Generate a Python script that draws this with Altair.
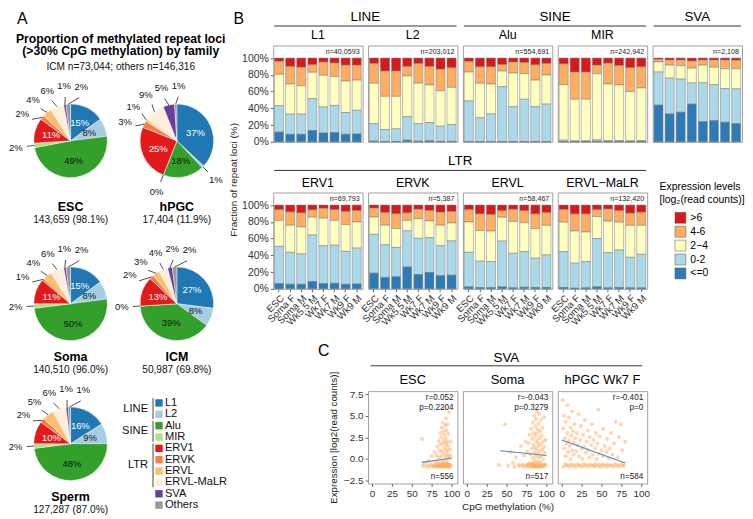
import math
import altair as alt
import pandas as pd

FONT = "Liberation Sans"

# ======================= Panel A data =======================
FAMILIES = ["L1", "L2", "Alu", "MIR", "ERV1", "ERVK", "ERVL", "ERVL-MaLR", "SVA", "Others"]
FAMILY_COLORS = ["#1f78b4", "#a6cee3", "#33a02c", "#b2df8a", "#e31a1c",
                 "#f47f4a", "#fdbf6f", "#fdeedb", "#6a3d9a", "#999999"]
FAMILY_GROUPS = [("LINE", "L1", "L2"), ("SINE", "Alu", "MIR"), ("LTR", "ERV1", "ERVL-MaLR")]
DARK_FAMILIES = ["L1", "ERV1"]

PIE_ESC = [15, 8, 49, 2, 11, 2, 4, 6, 1, 2]
PIE_HPGC = [37, 1, 18, 0, 25, 3, 1, 9, 5, 1]
PIE_SOMA = [15, 8, 50, 2, 11, 1, 4, 6, 1, 2]
PIE_ICM = [27, 8, 39, 0, 13, 2, 3, 4, 2, 2]
PIE_SPERM = [16, 9, 48, 2, 10, 2, 5, 6, 1, 1]
PIE_NAMES = ["ESC", "hPGC", "Soma", "ICM", "Sperm"]
PIE_COUNTS = ["143,659 (98.1%)", "17,404 (11.9%)", "140,510 (96.0%)",
              "50,987 (69.8%)", "127,287 (87.0%)"]
A_TITLE = ["Proportion of methylated repeat loci", "(>30% CpG methylation) by family"]
A_SUBTITLE = "ICM n=73,044; others n=146,316"

# ======================= Panel B data =======================
SAMPLES = ["ESC", "Soma F", "Soma M", "Wk5.5 M", "Wk7 F", "Wk7 M", "Wk9 F", "Wk9 M"]
LEVELS = [">6", "4-6", "2\u22124", "0-2", "<=0"]
LEVEL_COLORS = ["#d7191c", "#fdae61", "#ffffbf", "#abd9e9", "#2c7bb6"]
LEVEL_STACK = {"<=0": 0, "0-2": 1, "2\u22124": 2, "4-6": 3, ">6": 4}

B_L1 = {"<=0": [11.6, 9, 9, 13.5, 10.5, 11, 9, 9.3],
        "0-2": [31.4, 24, 24, 38, 31, 32.4, 26, 28.3],
        "2\u22124": [37.6, 36, 34, 31.5, 38, 34.6, 37.5, 36],
        "4-6": [15.4, 21, 22, 9, 15.8, 16, 19, 17.9],
        ">6": [4, 10, 11, 8, 4.7, 6, 8.5, 8.5]}
B_L2 = {"<=0": [0.8, 0.4, 0.4, 2, 0.8, 1.2, 0.5, 0.5],
        "0-2": [20.9, 14.3, 15.1, 28, 20.9, 21.8, 18.1, 20],
        "2\u22124": [48.3, 39.6, 38.8, 48.7, 48.3, 44.8, 42.4, 44.5],
        "4-6": [23.4, 30.2, 30.2, 11.3, 23.4, 22.2, 25.8, 23.4],
        ">6": [6.6, 15.5, 15.5, 10, 6.6, 10, 13.2, 11.6]}
B_ALU = {"<=0": [0.3, 0.3, 0.3, 0.3, 0.3, 0.3, 0.3, 0.3],
         "0-2": [48.5, 28.4, 33, 65.6, 41.6, 50.5, 41.6, 44.7],
         "2\u22124": [34.5, 41.3, 35.7, 18.6, 40.3, 30.6, 31.7, 34.8],
         "4-6": [12.7, 19.5, 20.5, 7.7, 13.1, 13.2, 18.3, 13.6],
         ">6": [4, 10.5, 10.5, 7.8, 4.7, 5.4, 8.1, 6.6]}
B_MIR = {"<=0": [0.3, 0.2, 0.2, 0.6, 0.3, 0.3, 0.2, 0.3],
         "0-2": [1.7, 1.0, 1.0, 1.7, 1.2, 1.2, 1.0, 1.2],
         "2\u22124": [66.2, 49.6, 49.6, 79.1, 67.5, 66.3, 58.8, 62.8],
         "4-6": [24.8, 32.5, 32.5, 10.1, 24.8, 23.2, 28.4, 25.2],
         ">6": [7, 16.7, 16.7, 8.5, 6.2, 9, 11.6, 10.5]}
B_SVA = {"<=0": [43.8, 33.3, 35.3, 45, 24, 25.2, 23.3, 21.7],
         "0-2": [39.5, 42.7, 39.5, 25.2, 46.5, 43, 40.3, 41.5],
         "2\u22124": [12, 15.5, 16.2, 17.8, 21, 20.8, 23.6, 24],
         "4-6": [3.1, 6.2, 6.7, 8.5, 6.2, 8.7, 10.5, 10.1],
         ">6": [1.6, 2.3, 2.3, 3.5, 2.3, 2.3, 2.3, 2.7]}
B_ERV1 = {"<=0": [6.2, 5.4, 5.4, 8.6, 6.2, 6.6, 5.4, 5.8],
          "0-2": [44.4, 38.2, 36.2, 55.6, 45.2, 45.5, 39.3, 42.8],
          "2\u22124": [31.1, 32.3, 32.3, 21.4, 33, 29.6, 32, 31.2],
          "4-6": [12.8, 15.9, 16.8, 8.6, 11.7, 12.8, 15.5, 13.6],
          ">6": [5.5, 8.2, 9.3, 5.8, 3.9, 5.5, 7.8, 6.6]}
B_ERVK = {"<=0": [18.7, 13.6, 14.4, 26, 17, 19.5, 15.6, 16.3],
          "0-2": [46.3, 38.9, 35, 43.3, 43.3, 41.5, 35.8, 40.9],
          "2\u22124": [20.6, 23.4, 22.6, 12.4, 23.4, 20, 24.5, 21.4],
          "4-6": [10.9, 15.1, 17.5, 9, 11.3, 12.4, 15.5, 13.6],
          ">6": [3.5, 9, 10.5, 9.3, 5, 6.6, 8.6, 7.8]}
B_ERVL = {"<=0": [2.3, 1.5, 1.5, 2.4, 1.2, 2, 1.6, 1.6],
          "0-2": [41.3, 31.5, 31, 54.5, 41.2, 42.3, 34.9, 38.8],
          "2\u22124": [36.2, 36.6, 36.5, 28.6, 38, 34.5, 35.3, 35.3],
          "4-6": [14.7, 19.9, 19.7, 7.8, 14.5, 14.5, 17.6, 15.3],
          ">6": [5.5, 10.5, 11.3, 6.7, 5.1, 6.7, 10.6, 9]}
B_MALR = {"<=0": [1.6, 0.8, 1.2, 2.4, 1.2, 1.6, 1.2, 1.2],
          "0-2": [42.7, 29.8, 31.3, 57.6, 41.9, 44.7, 36.4, 40],
          "2\u22124": [35.3, 38.4, 35.3, 26.3, 37.7, 33.3, 38.1, 34.5],
          "4-6": [14.9, 20.4, 21.6, 8.2, 14.5, 13.7, 14.5, 15.7],
          ">6": [5.5, 10.6, 10.6, 5.5, 4.7, 6.7, 9.8, 8.6]}
B_N = {"L1": "n=40,0593", "L2": "n=203,012", "Alu": "n=554,691", "MIR": "n=242,942",
       "SVA": "n=2,108", "ERV1": "n=69,793", "ERVK": "n=5,387", "ERVL": "n=58,467",
       "MaLR": "n=132,420"}

# ======================= Panel C data =======================
C_ESC = [(63, 2.3), (64, -0.8), (66, -0.5), (68, -0.9), (70, -0.7), (71, -0.2), (72, -0.9), (74, -0.6),
         (75, 0.3), (76, -0.8), (77, -0.9), (78, -0.7), (79, 0.8), (80, -0.8), (80, -0.5), (81, -0.9),
         (81, 0.4), (82, -0.7), (82, 1.4), (83, -0.8), (83, -0.4), (84, -0.9), (84, 2.1), (84, 0.1),
         (85, -0.7), (85, -0.8), (85, 1.0), (86, -0.9), (86, -0.5), (86, 1.7), (86, 3.0), (87, -0.8),
         (87, 0.3), (87, 2.5), (88, -0.7), (88, -0.9), (88, 0.9), (88, 3.6), (89, -0.8), (89, -0.3),
         (89, 1.8), (89, 4.2), (90, -0.9), (90, -0.6), (90, 0.6), (90, 2.2), (90, 3.2), (91, -0.8),
         (91, -0.5), (91, 1.3), (91, 2.8), (91, 5.8), (92, -0.9), (92, -0.7), (92, 0.2), (92, 1.9),
         (92, 3.9), (93, -0.8), (93, -0.3), (93, 1.0), (93, 2.4), (93, 4.7), (94, -0.9), (94, -0.6),
         (94, 0.5), (94, 1.6), (94, 3.3), (95, -0.8), (95, -0.5), (95, 0.9), (95, 2.0), (95, 4.0),
         (96, -0.9), (96, -0.7), (96, 0.1), (96, 1.4), (96, 2.9), (97, -0.8), (97, 0.4), (97, 5.4),
         (97, -0.6), (98, -0.9), (98, 1.1), (98, -0.7), (99, -0.8), (99, 0.3), (99, 2.0), (87, -0.6),
         (89, -0.6), (93, -0.7)]
C_SOMA = [(40, -0.7), (48, 4.0), (52, -0.8), (55, 0.8), (58, -0.5), (60, -0.9), (62, 0.2), (65, -0.7),
          (67, -0.8), (68, 1.5), (70, -0.6), (71, -0.9), (72, 0.4), (73, -0.8), (74, 2.0), (75, -0.7),
          (76, -0.9), (76, 0.9), (77, -0.6), (78, -0.8), (78, 1.8), (79, 2.8), (80, -0.9), (80, -0.5),
          (80, 0.5), (81, -0.8), (81, 3.5), (82, -0.7), (82, 1.2), (82, 2.3), (83, -0.9), (83, 0.1),
          (83, 4.2), (84, -0.8), (84, -0.4), (84, 1.6), (84, 3.0), (85, -0.7), (85, 0.7), (85, 2.6),
          (85, 5.0), (86, -0.9), (86, -0.2), (86, 1.3), (86, 3.8), (87, -0.8), (87, 0.3), (87, 2.1),
          (87, 4.6), (88, -0.7), (88, -0.5), (88, 1.0), (88, 2.9), (88, 5.5), (89, -0.9), (89, 0.6),
          (89, 1.9), (89, 3.4), (90, -0.8), (90, -0.3), (90, 1.5), (90, 4.1), (91, -0.7), (91, 0.2),
          (91, 2.4), (91, 5.2), (92, -0.9), (92, 0.9), (92, 3.2), (93, -0.8), (93, -0.4), (93, 1.7),
          (93, 4.5), (94, -0.7), (94, 0.4), (94, 2.7), (95, -0.9), (95, 1.1), (95, 3.6), (96, -0.8),
          (96, 0.0), (96, 2.0), (97, -0.7), (97, 1.4), (97, 4.8), (98, -0.8), (98, 0.7), (99, -0.6),
          (99, 2.2), (85, -0.8), (79, -0.6), (83, -0.6), (87, -0.9), (91, -0.9), (94, -0.8)]
C_HPGC = [(1, 6.8), (2, -0.9), (2, 3.5), (3, 1.2), (3, 5.0), (4, -0.6), (4, 2.4), (5, 0.3), (5, 4.3),
          (6, -0.8), (6, 1.8), (7, 3.0), (7, 6.2), (8, -0.7), (8, 0.8), (9, 2.1), (9, 4.8), (10, -0.9),
          (10, 1.5), (11, 3.6), (11, 0.0), (12, -0.6), (12, 2.7), (13, 5.5), (13, 1.0), (14, -0.8),
          (14, 3.2), (15, 0.5), (15, 1.9), (16, -0.7), (16, 4.0), (17, 2.4), (18, -0.9), (18, 0.9),
          (19, 3.0), (20, -0.6), (20, 1.6), (21, 5.2), (22, -0.8), (22, 0.3), (23, 2.2), (24, -0.7),
          (24, 3.8), (25, 1.2), (26, -0.9), (26, 0.0), (27, 2.8), (28, -0.6), (28, 1.4), (29, 4.5),
          (30, -0.8), (30, 0.7), (31, 2.0), (32, -0.7), (33, 1.0), (33, 3.3), (34, -0.9), (35, 0.2),
          (35, 2.5), (36, -0.6), (37, 1.6), (38, -0.8), (38, 4.0), (39, 0.5), (40, -0.7), (40, 2.2),
          (41, -0.9), (42, 1.2), (43, -0.6), (43, 3.0), (44, 0.0), (45, -0.8), (45, 1.8), (46, 5.7),
          (47, -0.7), (47, 0.6), (48, 2.6), (49, -0.9), (50, 1.0), (51, -0.6), (52, 0.3), (52, 3.5),
          (53, -0.8), (54, 1.5), (55, -0.7), (56, 0.8), (57, -0.9), (57, 2.3), (58, -0.6), (59, 0.1),
          (60, 1.2), (61, -0.8), (62, 3.0), (63, -0.7), (64, 0.5), (65, -0.9), (66, 1.8), (67, -0.6),
          (68, 4.3), (69, -0.8), (70, 0.2), (71, -0.7), (72, 2.5), (73, -0.9), (74, 4.0), (75, -0.6),
          (76, 1.0), (78, -0.8), (80, 2.0), (77, -0.7)]
C_LINE_ESC = [(62.5, -0.4), (100, 0.08)]
C_LINE_SOMA = [(42, 0.95), (100, 0.4)]
C_LINE_HPGC = [(0, 2.2), (80, -0.48)]
C_STATS = {"ESC": ("r=0.052\np=0.2204", "n=556"),
           "Soma": ("r=-0.043\np=0.3279", "n=517"),
           "hPGC Wk7 F": ("r=-0.401\np=0", "n=584")}
C_XTICKS = [0, 25, 50, 75, 100]
C_YTICKS = [-2.5, 0, 2.5, 5, 7.5]


# ======================= helpers =======================
def txt(s, x, y, **kw):
    return alt.Chart(pd.DataFrame({"t": [s]})).mark_text(**kw).encode(
        text="t:N", x=alt.value(x), y=alt.value(y))


def hrule(x1, x2, y, color="#333333"):
    return alt.Chart(pd.DataFrame({"t": [0]})).mark_rule(color=color, strokeWidth=1).encode(
        x=alt.value(x1), x2=alt.value(x2), y=alt.value(y))


NOSTROKE = alt.ViewBackground(stroke="transparent")

# ----- pies -----
PIE_W = 100
PIE_CX, PIE_CY, PIE_R = 54.0, 49.0, 37.0
FAM_SCALE = alt.Scale(domain=FAMILIES, range=FAMILY_COLORS)


def spread(angles, gap):
    a = list(angles)
    for _ in range(400):
        moved = False
        idx = sorted(range(len(a)), key=lambda i: a[i])
        for j in range(len(idx) - 1):
            i1, i2 = idx[j], idx[j + 1]
            d = a[i2] - a[i1]
            if d < gap - 1e-6:
                push = (gap - d) / 2
                a[i1] -= push
                a[i2] += push
                moved = True
        if not moved:
            break
    return a


def pie_cell(name, count, pcts, cell_h, name_dy, count_dy):
    xs = alt.Scale(domain=[-PIE_CX / PIE_R, (PIE_W - PIE_CX) / PIE_R], nice=False, zero=False)
    ys = alt.Scale(domain=[-(cell_h - PIE_CY) / PIE_R, PIE_CY / PIE_R], nice=False, zero=False)
    total = float(sum(pcts))
    rows, ins, outs = [], [], []
    cum = 0.0
    for fam, p in zip(FAMILIES, pcts):
        rows.append({"fam": fam, "t0": cum, "t1": cum + p, "cx": 0.0, "cy": 0.0})
        mid = (cum + p / 2) / total * 360.0
        lab = f"{p}%"
        if p >= 8 and fam != "ERVL-MaLR":
            m = math.radians(mid)
            ins.append({"lab": lab, "lx": 0.55 * math.sin(m), "ly": 0.55 * math.cos(m),
                        "dark": fam in DARK_FAMILIES})
        else:
            outs.append({"lab": lab, "mid": mid})
        cum += p
    adj = spread([o["mid"] for o in outs], 18.0)
    for o, a in zip(outs, adj):
        m, r = math.radians(o["mid"]), math.radians(a)
        o.update(ex=math.sin(m), ey=math.cos(m), kx=1.2 * math.sin(r), ky=1.2 * math.cos(r),
                 lx=1.5 * math.sin(r), ly=1.5 * math.cos(r))
    slices = pd.DataFrame(rows)
    ins_df = pd.DataFrame(ins)
    outs_df = pd.DataFrame(outs)

    arcs = alt.Chart(slices).mark_arc(radius=PIE_R, stroke="white", strokeWidth=0.4).encode(
        x=alt.X("cx:Q", scale=xs, axis=None),
        y=alt.Y("cy:Q", scale=ys, axis=None),
        theta=alt.Theta("t0:Q", scale=alt.Scale(domain=[0, total])),
        theta2="t1:Q",
        color=alt.Color("fam:N", scale=FAM_SCALE, legend=None),
    )
    leaders = alt.Chart(outs_df).mark_rule(color="#222222", strokeWidth=0.8).encode(
        x=alt.X("ex:Q", scale=xs, axis=None), y=alt.Y("ey:Q", scale=ys, axis=None),
        x2="kx:Q", y2="ky:Q")
    out_t = alt.Chart(outs_df).mark_text(fontSize=9.5, color="#111111").encode(
        x=alt.X("lx:Q", scale=xs, axis=None), y=alt.Y("ly:Q", scale=ys, axis=None), text="lab:N")
    in_dark = alt.Chart(ins_df[ins_df["dark"]]).mark_text(fontSize=9.5, color="white").encode(
        x=alt.X("lx:Q", scale=xs, axis=None), y=alt.Y("ly:Q", scale=ys, axis=None), text="lab:N")
    in_light = alt.Chart(ins_df[~ins_df["dark"]]).mark_text(fontSize=9.5, color="#111111").encode(
        x=alt.X("lx:Q", scale=xs, axis=None), y=alt.Y("ly:Q", scale=ys, axis=None), text="lab:N")
    name_t = txt(name, PIE_CX, PIE_CY + name_dy, fontSize=12.5, fontWeight="bold", color="black")
    count_t = txt(count, PIE_CX, PIE_CY + count_dy, fontSize=10.2, color="#111111")
    return alt.layer(arcs, leaders, out_t, in_dark, in_light, name_t, count_t).properties(
        width=PIE_W, height=cell_h, view=NOSTROKE)


def family_legend(cell_h):
    top, step = 7.9, 11.43
    ysc = alt.Scale(domain=[-top / step, (cell_h - top) / step], reverse=True, nice=False, zero=False)
    items = pd.DataFrame({"fam": FAMILIES, "idx": list(range(len(FAMILIES)))})
    g = []
    for name, a, b in FAMILY_GROUPS:
        i0, i1 = FAMILIES.index(a), FAMILIES.index(b)
        g.append({"g": name, "y0": i0 - 0.42, "y1": i1 + 0.42, "ym": (i0 + i1) / 2})
    gdf = pd.DataFrame(g)
    sq = alt.Chart(items).mark_square(size=55, opacity=1).encode(
        x=alt.value(36), y=alt.Y("idx:Q", scale=ysc, axis=None),
        color=alt.Color("fam:N", scale=FAM_SCALE, legend=None))
    tx = alt.Chart(items).mark_text(align="left", fontSize=11.2, color="#111111").encode(
        x=alt.value(42), y=alt.Y("idx:Q", scale=ysc, axis=None), text="fam:N")
    gt = alt.Chart(gdf).mark_text(align="right", fontSize=11.2, color="#111111").encode(
        x=alt.value(25), y=alt.Y("ym:Q", scale=ysc, axis=None), text="g:N")
    gr = alt.Chart(gdf).mark_rule(color="#444444", strokeWidth=1).encode(
        x=alt.value(30), y=alt.Y("y0:Q", scale=ysc, axis=None), y2="y1:Q")
    return alt.layer(gr, sq, tx, gt).properties(width=PIE_W, height=cell_h, view=NOSTROKE)


# ----- bars -----
W, H, HC = 90, 97, 93
PITCH = W + 5.5

LEG = alt.Legend(orient="none", legendX=389, legendY=138,
                 title=["Expression levels", "[log\u2082(read counts)]"],
                 titleFontSize=10.5, titleFontWeight="normal", titleColor="black",
                 titleLineHeight=13, titlePadding=6, titleLimit=200,
                 symbolType="square", symbolSize=121, symbolOffset=15,
                 symbolStrokeColor="#555555", symbolStrokeWidth=0.5,
                 labelFontSize=10.5, labelColor="black", labelOffset=4, rowPadding=0, padding=0)


def panel_label(s, dy, size=12.5):
    return txt(s, W / 2, dy, fontSize=size, baseline="middle", color="black")


def bar_cell(title, data, nlab, show_y, show_x, label_dy, extra=()):
    rows = []
    for i, s in enumerate(SAMPLES):
        for lvl in LEVELS:
            rows.append({"sample": s, "lvl": lvl, "val": data[lvl][i], "k": LEVEL_STACK[lvl]})
    df = pd.DataFrame(rows)
    if show_y:
        yax = alt.Axis(values=[0, 0.2, 0.4, 0.6, 0.8, 1.0], format=".0%", title=None,
                       labelFontSize=10.5, tickSize=3, labelPadding=2, labelOverlap=False)
    else:
        yax = None
    if show_x:
        xax = alt.Axis(labelAngle=315, labelFontSize=9.8, tickSize=3, title=None, labelPadding=1,
                       labelOverlap=False)
    else:
        xax = None
    bars = alt.Chart(df).mark_bar(stroke="#7a7a7a", strokeWidth=0.5).encode(
        x=alt.X("sample:N", sort=SAMPLES, scale=alt.Scale(paddingInner=0.18, paddingOuter=0.12),
                axis=xax),
        y=alt.Y("val:Q", stack="normalize", scale=alt.Scale(domain=[0, 1.15], nice=False), axis=yax),
        color=alt.Color("lvl:N", scale=alt.Scale(domain=LEVELS, range=LEVEL_COLORS), legend=LEG),
        order=alt.Order("k:Q", sort="ascending"),
    )
    layers = [bars, txt(nlab, W - 3, 6.5, align="right", baseline="middle", fontSize=7.2,
                        color="#222222")]
    if title:
        layers.append(panel_label(title, label_dy))
    return alt.layer(*layers, *extra).properties(width=W, height=H)


def group_header(label, span, dy_text, dy_rule):
    return [hrule(1, span, dy_rule), txt(label, (1 + span) / 2, dy_text, fontSize=13.5,
                                          baseline="middle", color="black")]


def spacer(w, h, extra=()):
    base = alt.Chart(pd.DataFrame({"t": [""]})).mark_text().encode(text="t:N")
    return alt.layer(base, *extra).properties(width=w, height=h, view=NOSTROKE)


def scatter_cell(name, pts, line, show_y, show_xtitle, extra=()):
    pdf = pd.DataFrame({"m": [p[0] for p in pts], "e": [p[1] for p in pts]})
    ldf = pd.DataFrame({"m": [p[0] for p in line], "e": [p[1] for p in line]})
    xsc = alt.Scale(domain=[-5, 107.5], nice=False, zero=False)
    ysc = alt.Scale(domain=[-2.84, 7.84], nice=False, zero=False)
    xkw = dict(values=C_XTICKS, labelFontSize=10, tickSize=3, labelPadding=2,
               labelOverlap=False, labelFlush=False, labelBound=False)
    if show_xtitle:
        xkw.update(title="CpG methylation (%)", titleFontSize=10, titlePadding=3)
    else:
        xkw.update(title=None)
    xax = alt.Axis(**xkw)
    if show_y:
        yax = alt.Axis(values=C_YTICKS, format=".1f", labelFontSize=10, tickSize=3,
                       labelPadding=2, labelOverlap=False, labelFlush=False, labelBound=False,
                       title="Expression [log2(read counts)]", titleFontSize=9.8, titlePadding=5)
    else:
        yax = None
    pts_l = alt.Chart(pdf).mark_circle(size=16, opacity=0.5, color="#fdae61").encode(
        x=alt.X("m:Q", scale=xsc, axis=xax), y=alt.Y("e:Q", scale=ysc, axis=yax))
    line_l = alt.Chart(ldf).mark_line(color="#4a8cc2", strokeWidth=1.1).encode(
        x=alt.X("m:Q", scale=xsc, axis=xax), y=alt.Y("e:Q", scale=ysc, axis=yax))
    st, nl = C_STATS[name]
    st_l = txt(st, W - 4, 3, align="right", baseline="top", fontSize=8.2, lineBreak="\n",
               color="#222222")
    n_l = txt(nl, W - 4, HC - 3, align="right", baseline="bottom", fontSize=8.2, color="#222222")
    return alt.layer(pts_l, line_l, st_l, n_l, panel_label(name, -10.8, 13), *extra).properties(
        width=W, height=HC)


# ======================= Panel A assembly =======================
A_HDR_H = 47
A_ROW_H = [163.7, 140.1, 120]
a_header = [
    txt("A", 0, -26.5, align="left", baseline="middle", fontSize=16, color="black"),
    txt(A_TITLE[0], 104.5, -6.9, baseline="middle", fontSize=12.3, fontWeight="bold", color="black"),
    txt(A_TITLE[1], 104.5, 5.9, baseline="middle", fontSize=12.3, fontWeight="bold", color="black"),
    txt(A_SUBTITLE, 104.5, 21.6, baseline="middle", fontSize=10.2, color="#111111"),
]
A_grid = alt.concat(
    spacer(PIE_W, A_HDR_H, extra=a_header), spacer(PIE_W, A_HDR_H),
    pie_cell("ESC", PIE_COUNTS[0], PIE_ESC, A_ROW_H[0], 66.6, 79.4),
    pie_cell("hPGC", PIE_COUNTS[1], PIE_HPGC, A_ROW_H[0], 66.6, 79.4),
    pie_cell("Soma", PIE_COUNTS[2], PIE_SOMA, A_ROW_H[1], 53.9, 66.6),
    pie_cell("ICM", PIE_COUNTS[3], PIE_ICM, A_ROW_H[1], 53.9, 66.6),
    pie_cell("Sperm", PIE_COUNTS[4], PIE_SPERM, A_ROW_H[2], 53.9, 66.6),
    family_legend(A_ROW_H[2]),
    columns=2, spacing={"row": 0, "column": 7}, bounds="flush")

# ======================= Panel B / C assembly =======================
R1_TXT, R1_RULE, R1_LAB = -28.4, -19.6, -10.4
R2_TXT, R2_RULE, R2_LAB = -32.0, -22.2, -9.2

l1 = bar_cell("L1", B_L1, B_N["L1"], True, False, R1_LAB,
              extra=group_header("LINE", PITCH + W - 1, R1_TXT, R1_RULE)
              + [txt("B", -40, -26.5, align="left", baseline="middle", fontSize=16, color="black")])
l2 = bar_cell("L2", B_L2, B_N["L2"], False, False, R1_LAB)
alu = bar_cell("Alu", B_ALU, B_N["Alu"], False, False, R1_LAB,
               extra=group_header("SINE", PITCH + W - 1, R1_TXT, R1_RULE))
mir = bar_cell("MIR", B_MIR, B_N["MIR"], False, False, R1_LAB)
sva = bar_cell("", B_SVA, B_N["SVA"], False, False, R1_LAB,
               extra=group_header("SVA", W - 1, R1_TXT, R1_RULE))
erv1 = bar_cell("ERV1", B_ERV1, B_N["ERV1"], True, True, R2_LAB,
                extra=group_header("LTR", 3 * PITCH + W - 1, R2_TXT, R2_RULE)
                + [txt("Fraction of repeat loci (%)", -39, -12.7, angle=270, baseline="middle",
                       fontSize=10, color="#222222")])
ervk = bar_cell("ERVK", B_ERVK, B_N["ERVK"], False, True, R2_LAB)
ervl = bar_cell("ERVL", B_ERVL, B_N["ERVL"], False, True, R2_LAB)
malr = bar_cell("ERVL\u2212MaLR", B_MALR, B_N["MaLR"], False, True, R2_LAB)

c_esc = scatter_cell("ESC", C_ESC, C_LINE_ESC, True, False,
                     extra=[hrule(2.5, 2 * PITCH + W - 5, -25.5),
                            txt("SVA", (2 * PITCH + W - 2.5) / 2, -33.3, fontSize=13.5,
                                baseline="middle", color="black")])
c_soma = scatter_cell("Soma", C_SOMA, C_LINE_SOMA, False, True)
c_hpgc = scatter_cell("hPGC Wk7 F", C_HPGC, C_LINE_HPGC, False, False)

R_cells = [l1, l2, alu, mir, sva,
           erv1, ervk, ervl, malr, spacer(W, H),
           spacer(W, 1), spacer(W, 1), spacer(W, 1), spacer(W, 1), spacer(W, 1),
           spacer(W, HC, extra=[txt("C", 45, -40.2, align="left", baseline="middle", fontSize=16,
                                    color="black")]),
           c_esc, c_soma, c_hpgc, spacer(W, HC)]
R_grid = alt.concat(*R_cells, columns=5, spacing={"row": 51, "column": 5.5}, bounds="flush")

chart = alt.hconcat(A_grid, R_grid, spacing=258, bounds="flush").resolve_scale(
    color="independent").properties(padding=0).configure(font=FONT).configure_view(
    stroke="#a0a0a0", strokeWidth=1).configure_axis(
    domain=False, grid=False, labelColor="#333333", tickColor="#666666", titleColor="#222222",
    titleFontWeight="normal", labelOverlap=False)

chart.save("out.html", embed_options={"renderer": "svg", "actions": False})
